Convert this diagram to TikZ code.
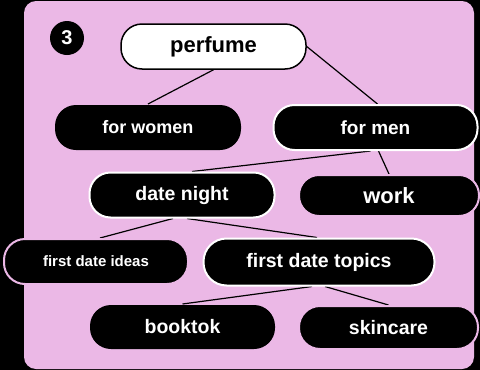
\documentclass[tikz,border=0pt]{standalone}
\usepackage{fontspec}
\setmainfont{Liberation Sans}
\usetikzlibrary{backgrounds}
\definecolor{bgpink}{HTML}{EBB8E6}
\tikzset{
  pill/.style={rectangle, rounded corners=21pt, fill=black, text=white, font=\bfseries, inner sep=0pt, line width=2pt},
  wb/.style={draw=white},
  pb/.style={draw=bgpink},
  link/.style={draw=black, line width=1.2pt},
}
\begin{document}
\begin{tikzpicture}[x=1pt,y=-1pt]
\begin{pgfonlayer}{background}
\fill[black] (0,0) rectangle (480,370);
\fill[bgpink, rounded corners=12pt] (24,1) rectangle (474,369);
\end{pgfonlayer}
\useasboundingbox (0,0) rectangle (480,370);

\node[circle, fill=black, text=white, font=\bfseries\fontsize{20}{20}\selectfont, minimum size=34pt, inner sep=0pt] (badge) at (67,38) {3};

\node[pill, fill=white, text=black, draw=black, line width=1.5pt, minimum width=185pt, minimum height=45pt, font=\bfseries\fontsize{22}{22}\selectfont] (perfume) at (213.5,46.5) {perfume};
\node[pill, minimum width=186pt, minimum height=45pt, font=\bfseries\fontsize{18}{18}\selectfont] (women) at (148,127.5) {for women};
\node[pill, wb, minimum width=204pt, minimum height=45pt, font=\bfseries\fontsize{19}{19}\selectfont] (men) at (375.5,127.5) {for men};
\node[pill, wb, minimum width=185pt, minimum height=45pt, font=\bfseries\fontsize{19.5}{19.5}\selectfont] (date) at (182,195) {date night};
\node[pill, pb, minimum width=180pt, minimum height=41pt, rounded corners=20pt, font=\bfseries\fontsize{22}{22}\selectfont] (work) at (389,195.5) {work};
\node[pill, pb, minimum width=184pt, minimum height=45pt, font=\bfseries\fontsize{15}{15}\selectfont] (ideas) at (96,261.5) {first date ideas};
\node[pill, wb, minimum width=231pt, minimum height=47pt, rounded corners=23pt, font=\bfseries\fontsize{19.5}{19.5}\selectfont] (topics) at (319,262) {first date topics};
\node[pill, minimum width=185pt, minimum height=44pt, font=\bfseries\fontsize{19.5}{19.5}\selectfont] (booktok) at (182.5,327) {booktok};
\node[pill, pb, minimum width=179pt, minimum height=43pt, font=\bfseries\fontsize{19.5}{19.5}\selectfont] (skincare) at (388.5,327.5) {skincare};

\begin{pgfonlayer}{background}
\draw[link] (perfume.south) -- (women.north);
\draw[link] (perfume.east) -- ([xshift=2pt]men.north);
\draw[link] ([xshift=-5pt]men.south) -- ([xshift=10pt]date.north);
\draw[link] ([xshift=3pt]men.south) -- (work.north);
\draw[link] ([xshift=-9pt]date.south) -- ([xshift=4pt]ideas.north);
\draw[link] ([xshift=5pt]date.south) -- ([xshift=-2pt]topics.north);
\draw[link] ([xshift=-7pt]topics.south) -- (booktok.north);
\draw[link] ([xshift=6pt]topics.south) -- (skincare.north);
\end{pgfonlayer}
\end{tikzpicture}
\end{document}
